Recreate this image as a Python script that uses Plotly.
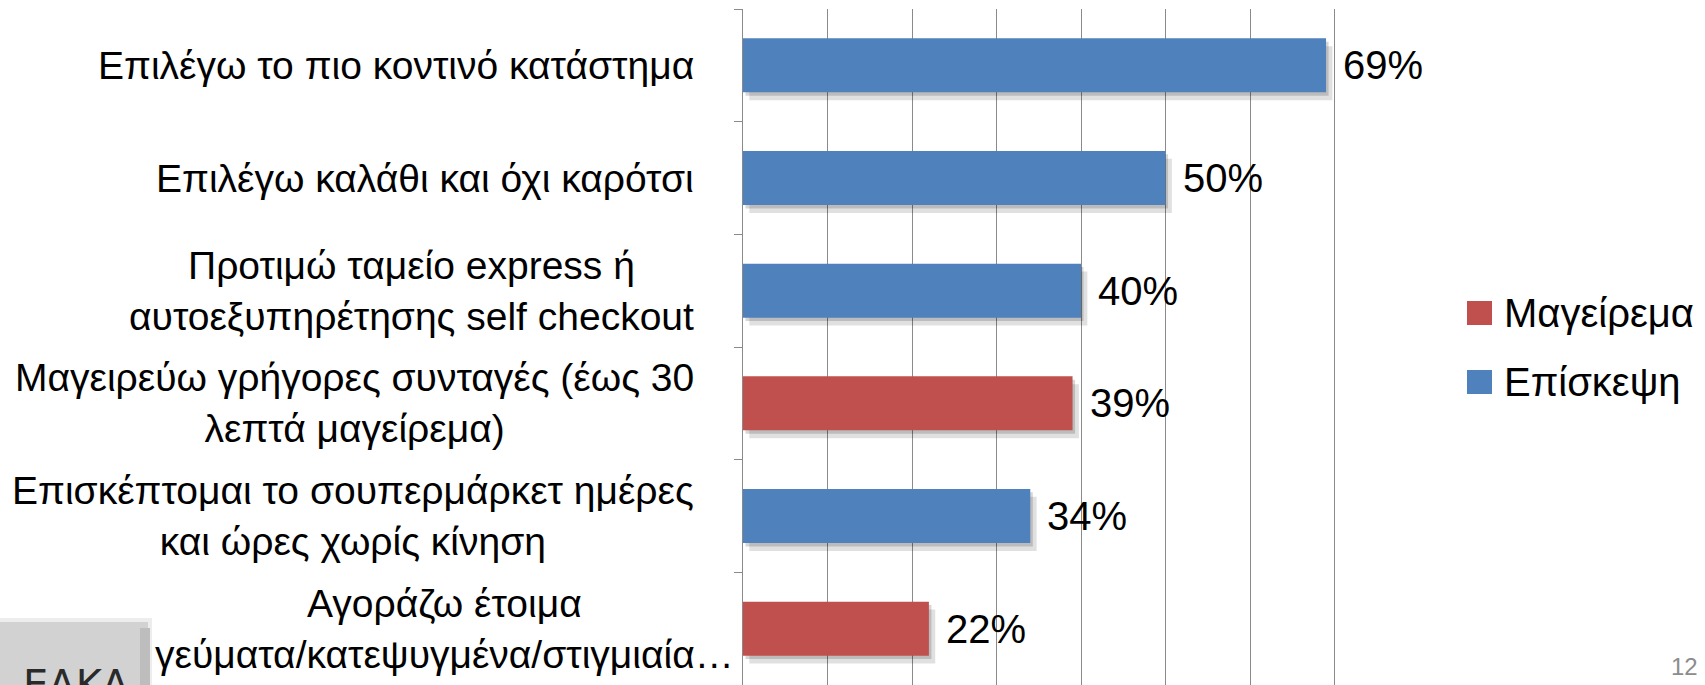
import plotly.graph_objects as go

# data (percent of respondents)
categories = [
    "Επιλέγω το πιο κοντινό κατάστημα",
    "Επιλέγω καλάθι και όχι καρότσι",
    "Προτιμώ ταμείο express ή<br>αυτοεξυπηρέτησης self checkout",
    "Μαγειρεύω γρήγορες συνταγές (έως 30<br>λεπτά μαγείρεμα)",
    "Επισκέπτομαι το σουπερμάρκετ ημέρες<br>και ώρες χωρίς κίνηση",
    "Αγοράζω έτοιμα<br>γεύματα/κατεψυγμένα/στιγμιαία…",
]
values = [69, 50, 40, 39, 34, 22]
groups = ["Επίσκεψη", "Επίσκεψη", "Επίσκεψη", "Μαγείρεμα", "Επίσκεψη", "Μαγείρεμα"]
series = ["Μαγείρεμα", "Επίσκεψη"]
colors = {"Μαγείρεμα": "#C0504D", "Επίσκεψη": "#4F81BD"}
page_no = "12"

W, H = 1705, 685
L, R, T, B = 743, 1419, 9, 685
FONT = "Liberation Sans Narrow, Arial Narrow, Liberation Sans, Arial"
GRID = "#8a8a8a"

def px_x(x):
    return (x - L) / (R - L)

def px_y(y):
    return (B - y) / (B - T)

ids = list(range(len(categories)))
bw = 0.48

fig = go.Figure()

# soft drop shadow under every bar (two translucent layers)
for s in series:
    xs = [v if g == s else None for v, g in zip(values, groups)]
    for dx, dy, a in [(0.3, 0.03, 0.16), (0.75, 0.07, 0.12)]:
        fig.add_bar(x=xs, y=ids, orientation="h", width=bw, offset=-bw / 2 + dy,
                    base=dx, marker=dict(color=f"rgba(0,0,0,{a})", line_width=0),
                    showlegend=False, hoverinfo="skip")

for s in series:
    xs = [v if g == s else None for v, g in zip(values, groups)]
    fig.add_bar(x=xs, y=ids, orientation="h", width=bw, name=s,
                marker=dict(color=colors[s], line_width=0),
                showlegend=False, hoverinfo="skip")

# category labels (centred lines, block right-aligned next to the axis)
for i, c in enumerate(categories):
    shift = -47 if i < len(categories) - 1 else -7
    fig.add_annotation(x=0, xref="paper", y=i, yref="y", text=c, showarrow=False,
                       xanchor="right", yanchor="middle", align="center", xshift=shift,
                       font=dict(family=FONT, size=39, color="black"))

# value labels
for i, v in enumerate(values):
    fig.add_annotation(x=v, y=i, text=f"{v}%", showarrow=False, xanchor="left",
                       yanchor="middle", xshift=15,
                       font=dict(family=FONT, size=40, color="black"))

# legend drawn by hand so the swatches can be as large as on the slide
for k, s in enumerate(series):
    yc = 313 + k * 69
    fig.add_shape(type="rect", xref="paper", yref="paper",
                  x0=px_x(1467), x1=px_x(1492), y0=px_y(yc - 12), y1=px_y(yc + 12),
                  fillcolor=colors[s], line_width=0)
    fig.add_annotation(xref="paper", yref="paper", x=px_x(1502), y=px_y(yc), text=s,
                       showarrow=False, xanchor="left", yanchor="middle",
                       font=dict(family=FONT, size=40, color="black"))

# logo button in the corner
fig.add_shape(type="rect", xref="paper", yref="paper", layer="below",
              x0=px_x(-10), x1=px_x(150), y0=px_y(700), y1=px_y(620),
              fillcolor="#d2d2d2", line=dict(color="#ededed", width=4))
fig.add_shape(type="rect", xref="paper", yref="paper", layer="below",
              x0=px_x(140), x1=px_x(150), y0=px_y(700), y1=px_y(628),
              fillcolor="#bdbdbd", line_width=0)
fig.add_annotation(xref="paper", yref="paper", x=px_x(132), y=px_y(660), text="ΕΛΚΑ",
                   showarrow=False, xanchor="right", yanchor="top",
                   font=dict(family="DejaVu Sans", size=40, color="#2a2a2a"))

fig.add_annotation(xref="paper", yref="paper", x=px_x(1700), y=px_y(666), text=page_no,
                   showarrow=False, xanchor="right", yanchor="middle",
                   font=dict(family=FONT, size=24, color="#8c8c8c"))

fig.update_layout(
    width=W, height=H,
    margin=dict(l=L, r=W - R, t=T, b=H - B, pad=0),
    barmode="overlay",
    plot_bgcolor="white", paper_bgcolor="white",
    showlegend=False,
    xaxis=dict(range=[0, 80], dtick=10, showgrid=True, gridcolor=GRID, gridwidth=1,
               showticklabels=False, zeroline=False, showline=False, ticks=""),
    yaxis=dict(range=[len(categories) - 0.5, -0.5], tickmode="array",
               tickvals=[i - 0.5 for i in range(len(categories) + 1)],
               showticklabels=False, showgrid=False, zeroline=False,
               showline=True, linecolor=GRID, linewidth=1,
               ticks="outside", ticklen=8, tickcolor=GRID),
)

fig.write_html("out.html", config={"displayModeBar": False},
               post_script="document.body.style.margin='0';")
